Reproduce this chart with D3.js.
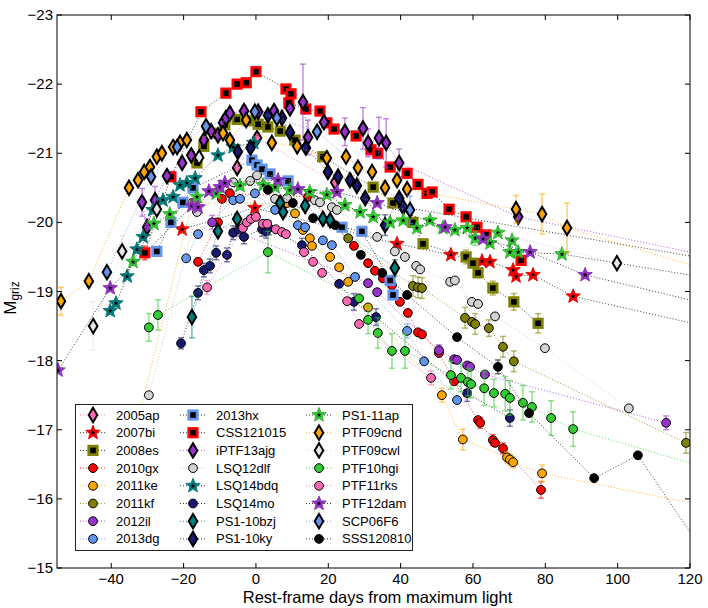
<!DOCTYPE html>
<html>
<head>
<meta charset="utf-8">
<script src="https://cdn.jsdelivr.net/npm/d3@7"></script>
<style>
  body { margin: 0; background: #fff; }
  svg { display: block; }
  text { font-family: "Liberation Sans", Arial, sans-serif; fill: #000; }
</style>
</head>
<body>
<div id="chart"></div>
<script>
// Superluminous SN light curves, M_griz vs rest-frame phase
// points are [day, mag, err]; err omitted = small (hidden behind marker)

const xTicks = [-40, -20, 0, 20, 40, 60, 80, 100, 120];
const yTicks = [-23, -22, -21, -20, -19, -18, -17, -16, -15];

const sn2005ap = [[-5.2,-20.79],[0.3,-21.22],[21.9,-20.58]];
const sn2007bi = [[-20.4,-19.90],[-0.3,-20.21],[39.0,-19.69],[53.9,-19.53],[62.5,-19.44],[64.7,-19.43],
  [71.1,-19.31],[71.9,-19.22],[76.6,-19.24],[87.7,-18.93],[135,-18.37]];
const sn2008es = [[-16.3,-20.86],[-14.4,-21.10],[-11.3,-21.29],[-8.6,-21.41],[-5.2,-21.49],[-2.2,-21.47],
  [0.6,-21.42],[3.3,-21.38],[6.7,-21.32],[10.8,-21.19],[18.5,-20.95],[32.4,-20.51],[37.9,-20.28],
  [43.4,-20.00],[46.2,-19.69],[58.1,-19.50,0.1],[60.0,-19.41],[61.4,-19.27],[65.5,-19.05,0.1],
  [71.3,-18.85,0.12],[78.0,-18.54,0.14]];
const sn2010gx = [[-16.0,-19.43],[-10.5,-20.00],[-9.4,-20.34],[-7.2,-20.42],[14.4,-20.37],[27.1,-19.66],
  [31.0,-19.41],[32.9,-19.30],[35.1,-19.19],[37.6,-19.09],[39.8,-18.85],[42.0,-18.69],[44.8,-18.41],
  [45.9,-18.38],[50.6,-18.11],[54.8,-17.70],[61.4,-17.14],[62.0,-17.10,0.08],[65.5,-16.85,0.08],
  [66.1,-16.81],[68.3,-16.73,0.08],[78.8,-16.13,0.12]];
const sn2011ke = [[-38,-16.0],[-17.7,-20.28],[8.6,-20.28],[10.8,-20.13],[13.0,-19.89],[14.9,-19.77],
  [15.5,-19.66],[20.5,-19.50],[23.0,-19.35],[25.5,-19.14],[31.0,-18.77],[51.4,-17.50,0.1],
  [57.2,-16.86,0.15],[69.4,-16.60,0.08],[70.2,-16.57,0.08],[71.1,-16.53,0.08],[79.1,-16.37,0.12],[130,-15.84]];
const sn2011kf = [[25.5,-19.77],[43.4,-19.08,0.15],[44.8,-19.06,0.15],[45.9,-19.05,0.15],[57.8,-18.62,0.15],
  [59.7,-18.56],[60.6,-18.53,0.15],[64.4,-18.47,0.12],[68.3,-18.20,0.15],[71.3,-17.99,0.15],[118.9,-16.81,0.15]];
const sn2012il = [[-12.1,-20.00,0.1],[31.0,-19.12],[33.5,-18.99],[50.6,-18.15,0.08],[54.8,-18.02],[55.6,-18.01],
  [58.4,-17.93],[59.2,-17.91],[63.3,-17.80],[113.4,-17.10,0.1]];
const sn2013dg = [[-19.3,-19.48],[-16.0,-19.83],[-6.3,-20.32],[-4.4,-20.34],[-0.3,-20.42],[5.3,-20.18],
  [11.6,-19.96],[13.6,-19.93],[18.5,-19.74],[21.0,-19.67],[27.4,-19.21],[41.8,-18.43,0.1],
  [46.5,-17.99],[55.6,-17.43]];
const sn2013hx = [[-27.4,-19.58],[-23.5,-20.00],[-20.2,-20.29],[-17.4,-20.50],[-1.1,-20.90],[0.3,-20.83],
  [1.7,-20.77],[3.9,-20.70],[8.9,-20.60],[23.8,-19.93],[29.3,-19.87],[37.1,-19.16],[37.9,-18.95]];
const snCSS121015 = [[-30.7,-19.56,0.1],[-23.5,-20.66],[-15.2,-21.60],[-8.3,-21.87],[-5.2,-22.00],[-2.7,-22.02],
  [0.0,-22.18],[8.3,-21.93],[9.7,-21.86],[9.1,-21.73],[13.8,-21.64],[17.7,-21.61],[19.6,-21.44],
  [21.6,-21.35],[27.7,-21.25],[31.8,-21.05],[33.7,-21.00],[37.1,-20.80],[41.8,-20.71],[44.8,-20.55],
  [47.3,-20.42],[48.7,-20.44],[53.4,-20.19],[58.1,-20.08],[61.1,-19.93],[63.6,-19.82],[73.3,-19.45]];
const sniPTF13ajg = [[-31.5,-20.29,0.2],[-30.1,-19.93,0.12],[-27.9,-20.32,0.2],[-24.6,-20.67],[-20.4,-20.86],
  [-17.9,-20.97],[-14.4,-21.19],[-12.4,-21.32],[-10.5,-21.26],[-9.1,-21.44],[-8.3,-21.51],[-7.2,-21.58],
  [-3.3,-21.61,0.08],[0.6,-21.60],[5.0,-21.61],[9.4,-21.65],[13.0,-21.74,0.55],[14.4,-21.23,0.25],
  [18.8,-21.45],[24.6,-21.31,0.2],[29.6,-21.36,0.3],[31.0,-21.15,0.2],[34.0,-21.22,0.3],[36.0,-21.15,0.35],
  [39.6,-20.86,0.2],[72.5,-20.08],[135,-19.41]];
const snLSQ12dlf = [[-29.6,-17.50],[-16.3,-20.15],[-6.3,-20.58],[-1.6,-20.60],[0.3,-20.68],[5.3,-20.34],
  [8.6,-20.35],[16.3,-20.32],[17.7,-20.29],[21.0,-20.22],[22.4,-20.18],[33.5,-19.79],[38.4,-19.58],
  [41.2,-19.50],[44.3,-19.37],[45.4,-19.32],[53.7,-19.14],[55.0,-19.16],[59.7,-18.85],[61.4,-18.82],
  [66.1,-18.64],[79.9,-18.18],[103.1,-17.31]];
const snLSQ14bdq = [[-40.3,-18.72],[-38.7,-18.83],[-35.6,-19.22],[-32.9,-19.61],[-31.2,-19.79],[-28.5,-20.18],
  [-25.7,-20.32],[-22.9,-20.37],[-21.0,-20.54],[-19.1,-20.57],[-16.8,-20.64],[-10.5,-20.97],[-6.3,-21.09],
  [-0.6,-21.15]];
const snLSQ14mo = [[-20.7,-18.25,0.08],[-16.0,-18.98,0.1],[-14.4,-19.31,0.1],[-12.7,-19.37,0.1],[-11.0,-19.56,0.1],
  [-8.0,-19.53,0.1],[-6.3,-19.85,0.1],[-4.7,-19.90,0.1],[-3.3,-19.79,0.1],[1.7,-19.90,0.1],[2.8,-19.87,0.1],
  [3.6,-19.92,0.1],[12.7,-19.67,0.1],[23.0,-19.11],[27.1,-18.85,0.12],[33.2,-18.63,0.12],[58.4,-17.53,0.12],
  [70.2,-17.17,0.12]];
const snPS1_10bzj = [[-17.7,-18.63,0.3],[-10.5,-19.87],[-5.2,-20.05],[6.7,-20.28],[7.5,-20.15],[13.6,-20.24],
  [18.5,-20.05],[20.5,-20.03],[38.4,-19.34,0.12]];
const snPS1_10ky = [[-5.0,-21.02],[-1.5,-21.08],[3.3,-21.55],[7.2,-21.51],[9.4,-21.30],[13.8,-21.08],
  [19.9,-20.73],[22.7,-20.66],[26.0,-20.61],[27.9,-20.53],[30.2,-20.35],[35.7,-19.96,0.15],[39.6,-20.35],
  [40.7,-20.22],[135,-19.38]];
const snPS1_11ap = [[-34.0,-19.43],[-28.2,-19.98],[-23.8,-20.12],[-16.3,-20.37],[-11.0,-20.42],[-4.4,-20.53],
  [2.0,-20.54],[5.3,-20.51],[9.4,-20.47],[14.9,-20.44],[19.6,-20.40],[24.6,-20.25],[28.8,-20.15],
  [32.4,-20.08],[37.1,-20.00],[40.7,-20.03],[44.5,-19.92],[48.1,-20.03],[51.7,-19.92],[55.0,-19.89],
  [58.4,-19.92],[60.6,-19.77,0.1],[64.7,-19.70],[66.9,-19.85],[70.8,-19.74],[70.2,-19.57],[72.5,-19.57],
  [84.6,-19.54],[135,-19.11]];
const snPTF09cnd = [[-53.9,-18.86,0.2],[-46.2,-19.15],[-35.1,-20.50],[-32.6,-20.61],[-30.9,-20.73],[-29.3,-20.80],
  [-27.4,-20.95],[-26.0,-21.00],[-22.9,-21.09],[-21.0,-21.15],[-19.1,-21.19],[-9.1,-21.29],[-7.2,-21.19],
  [-2.7,-21.48],[4.4,-21.15],[11.4,-21.10],[19.6,-20.93],[24.9,-20.95],[28.2,-20.79],[32.1,-20.73],
  [35.7,-20.50,0.1],[39.0,-20.61],[41.8,-20.48],[71.9,-20.19,0.2],[79.1,-20.12,0.29],[86.0,-19.92,0.36],
  [135,-19.15]];
const snPTF09cwl = [[-45.0,-18.50,0.35],[-37.0,-19.58,0.23],[-27.4,-20.19],[-15.7,-20.94],[99.8,-19.41]];
const snPTF10hgi = [[-29.6,-18.48,0.2],[-27.1,-18.66,0.22],[3.3,-19.57,0.3],[28.5,-18.90],[31.0,-18.59,0.2],
  [33.7,-18.40,0.22],[37.6,-18.14,0.25],[41.2,-18.14,0.25],[53.9,-17.79,0.2],[56.7,-17.75,0.2],
  [58.6,-17.69,0.2],[59.5,-17.66,0.2],[63.1,-17.60,0.25],[65.8,-17.53,0.2],[68.9,-17.52,0.25],
  [70.2,-17.46,0.25],[73.8,-17.39,0.25],[76.3,-17.33,0.22],[81.6,-17.17,0.25],[87.7,-17.01,0.25],[130,-16.37]];
const snPTF11rks = [[-13.5,-19.06,0.1],[-3.6,-19.92],[-2.5,-20.00],[-1.4,-20.05],[0.0,-20.08],[1.9,-19.98],
  [3.1,-19.98],[5.5,-19.90],[7.2,-19.86],[8.3,-19.83],[13.3,-19.57],[15.8,-19.43],[18.3,-19.27],
  [25.2,-18.86],[28.5,-18.53],[48.4,-17.75,0.1]];
const snPTF12dam = [[-54.7,-17.86],[-40.3,-19.05],[-17.7,-20.24],[-16.0,-20.22],[-13.0,-20.45],[-9.9,-20.51],
  [-8.6,-20.57],[6.1,-20.61],[11.6,-20.48],[22.4,-20.44],[33.5,-20.28],[52.3,-19.93],[62.8,-19.76],
  [75.8,-19.57],[91.0,-19.24],[135,-18.69]];
const snSCP06F6 = [[-41.2,-19.28],[-29.0,-20.66],[-21.8,-21.09],[-13.8,-21.39],[-0.3,-21.60],[5.8,-21.51],
  [16.9,-21.31],[42.6,-20.18,0.2]];
const snSSS120810 = [[3.3,-20.47],[10.2,-20.28],[15.8,-20.06],[21.9,-19.96],[29.0,-19.53],[34.9,-19.27],
  [41.8,-18.95],[55.6,-18.34],[66.9,-17.91,0.1],[75.5,-17.24],[93.5,-16.30],[105.6,-16.63],[128,-14.9]];

const names = ["2005ap","2007bi","2008es","2010gx","2011ke","2011kf","2012il","2013dg",
  "2013hx","CSS121015","iPTF13ajg","LSQ12dlf","LSQ14bdq","LSQ14mo","PS1-10bzj","PS1-10ky",
  "PS1-11ap","PTF09cnd","PTF09cwl","PTF10hgi","PTF11rks","PTF12dam","SCP06F6","SSS120810"];
const series = [sn2005ap, sn2007bi, sn2008es, sn2010gx, sn2011ke, sn2011kf, sn2012il, sn2013dg,
  sn2013hx, snCSS121015, sniPTF13ajg, snLSQ12dlf, snLSQ14bdq, snLSQ14mo, snPS1_10bzj, snPS1_10ky,
  snPS1_11ap, snPTF09cnd, snPTF09cwl, snPTF10hgi, snPTF11rks, snPTF12dam, snSCP06F6, snSSS120810];

// marker shape, marker colour, line colour
const styles = {
  "2005ap":    { m: "diamond", c: "#ff69b4", l: "#ff69b4" },
  "2007bi":    { m: "star",    c: "#ff0000", l: "#000000" },
  "2008es":    { m: "square",  c: "#808000", l: "#000000" },
  "2010gx":    { m: "circle",  c: "#ff0000", l: "#ff0000" },
  "2011ke":    { m: "circle",  c: "#ffa500", l: "#ffa500" },
  "2011kf":    { m: "circle",  c: "#808000", l: "#808000" },
  "2012il":    { m: "circle",  c: "#9932cc", l: "#9932cc" },
  "2013dg":    { m: "circle",  c: "#6495ed", l: "#6495ed" },
  "2013hx":    { m: "square",  c: "#6495ed", l: "#000000" },
  "CSS121015": { m: "square",  c: "#ff0000", l: "#000000" },
  "iPTF13ajg": { m: "diamond", c: "#9932cc", l: "#9932cc" },
  "LSQ12dlf":  { m: "circle",  c: "#d3d3d3", l: "#c0c0c0" },
  "LSQ14bdq":  { m: "star",    c: "#008080", l: "#000000" },
  "LSQ14mo":   { m: "circle",  c: "#191970", l: "#000000" },
  "PS1-10bzj": { m: "diamond", c: "#008080", l: "#008080" },
  "PS1-10ky":  { m: "diamond", c: "#191970", l: "#000000" },
  "PS1-11ap":  { m: "star",    c: "#32cd32", l: "#000000" },
  "PTF09cnd":  { m: "diamond", c: "#ffa500", l: "#ffa500" },
  "PTF09cwl":  { m: "diamond", c: "#e6e6e6", l: "#c8c8c8" },
  "PTF10hgi":  { m: "circle",  c: "#32cd32", l: "#32cd32" },
  "PTF11rks":  { m: "circle",  c: "#ff69b4", l: "#ff69b4" },
  "PTF12dam":  { m: "star",    c: "#9932cc", l: "#000000" },
  "SCP06F6":   { m: "diamond", c: "#6495ed", l: "#6495ed" },
  "SSS120810": { m: "circle",  c: "#000000", l: "#000000" }
};

const W = 708, H = 608;
const plot = { left: 57, right: 690, top: 15, bottom: 568 };

const x = d3.scaleLinear().domain([-55, 120]).range([plot.left, plot.right]);
const y = d3.scaleLinear().domain([-23, -15]).range([plot.top, plot.bottom]);

const svg = d3.select('#chart').append('svg')
  .attr('width', W).attr('height', H)
  .attr('viewBox', `0 0 ${W} ${H}`);

svg.append('defs').append('clipPath').attr('id', 'clip')
  .append('rect')
  .attr('x', plot.left).attr('y', plot.top)
  .attr('width', plot.right - plot.left).attr('height', plot.bottom - plot.top);

function starPath(R, r) {
  const pts = [];
  for (let i = 0; i < 10; i++) {
    const a = -Math.PI / 2 + i * Math.PI / 5;
    const rad = i % 2 ? r : R;
    pts.push([rad * Math.cos(a), rad * Math.sin(a)]);
  }
  return 'M' + pts.map(p => p[0].toFixed(2) + ',' + p[1].toFixed(2)).join('L') + 'Z';
}

function drawMarker(sel, st) {
  if (st.m === 'circle') {
    sel.append('circle').attr('r', 4.4)
      .attr('fill', st.c).attr('stroke', '#000').attr('stroke-width', 1);
  } else if (st.m === 'diamond') {
    sel.append('path').attr('d', 'M0,-7.2L4.3,0L0,7.2L-4.3,0Z')
      .attr('fill', st.c).attr('stroke', '#000').attr('stroke-width', 2)
      .attr('stroke-linejoin', 'miter');
  } else if (st.m === 'square') {
    sel.append('rect').attr('x', -4.2).attr('y', -4.2).attr('width', 8.4).attr('height', 8.4)
      .attr('fill', '#000').attr('stroke', st.c).attr('stroke-width', 2.8);
  } else if (st.m === 'star') {
    sel.append('path').attr('d', starPath(7.6, 3.3))
      .attr('fill', st.c).attr('stroke', d3.color(st.c).darker(0.6)).attr('stroke-width', 0.8);
    sel.append('path').attr('d', starPath(2.6, 1.1)).attr('fill', '#000');
  }
}

const g = svg.append('g').attr('clip-path', 'url(#clip)');
const line = d3.line().x(d => x(d[0])).y(d => y(d[1]));

series.forEach((data, i) => {
  const st = styles[names[i]];
  const sg = g.append('g').attr('class', 'sn');

  sg.append('path').datum(data)
    .attr('d', line)
    .attr('fill', 'none')
    .attr('stroke', st.l)
    .attr('stroke-opacity', st.l === '#000000' ? 0.75 : 0.8)
    .attr('stroke-width', 1)
    .attr('stroke-dasharray', '1,2');

  const errColor = st.c === '#000000' ? '#000' : st.c;
  const eb = sg.selectAll('.eb').data(data.filter(d => d[2])).enter().append('g')
    .attr('stroke', errColor).attr('stroke-opacity', 0.55).attr('stroke-width', 1.5);
  eb.append('line')
    .attr('x1', d => x(d[0])).attr('x2', d => x(d[0]))
    .attr('y1', d => y(d[1] - d[2])).attr('y2', d => y(d[1] + d[2]));
  eb.append('line')
    .attr('x1', d => x(d[0]) - 3).attr('x2', d => x(d[0]) + 3)
    .attr('y1', d => y(d[1] - d[2])).attr('y2', d => y(d[1] - d[2]));
  eb.append('line')
    .attr('x1', d => x(d[0]) - 3).attr('x2', d => x(d[0]) + 3)
    .attr('y1', d => y(d[1] + d[2])).attr('y2', d => y(d[1] + d[2]));

  sg.selectAll('.mk').data(data).enter().append('g')
    .attr('transform', d => `translate(${x(d[0])},${y(d[1])})`)
    .each(function () { drawMarker(d3.select(this), st); });
});

// frame and inward ticks on all sides
const axes = svg.append('g');
axes.append('rect')
  .attr('x', plot.left).attr('y', plot.top)
  .attr('width', plot.right - plot.left).attr('height', plot.bottom - plot.top)
  .attr('fill', 'none').attr('stroke', '#000').attr('stroke-width', 1);

const tickLen = 5;
xTicks.forEach(t => {
  axes.append('line').attr('x1', x(t)).attr('x2', x(t))
    .attr('y1', plot.bottom).attr('y2', plot.bottom - tickLen).attr('stroke', '#000');
  axes.append('line').attr('x1', x(t)).attr('x2', x(t))
    .attr('y1', plot.top).attr('y2', plot.top + tickLen).attr('stroke', '#000');
  axes.append('text').attr('x', x(t)).attr('y', plot.bottom + 16)
    .attr('text-anchor', 'middle').attr('font-size', 15)
    .text(t < 0 ? '\u2212' + Math.abs(t) : t);
});
yTicks.forEach(t => {
  axes.append('line').attr('x1', plot.left).attr('x2', plot.left + tickLen)
    .attr('y1', y(t)).attr('y2', y(t)).attr('stroke', '#000');
  axes.append('line').attr('x1', plot.right).attr('x2', plot.right - tickLen)
    .attr('y1', y(t)).attr('y2', y(t)).attr('stroke', '#000');
  axes.append('text').attr('x', plot.left - 4).attr('y', y(t) + 5)
    .attr('text-anchor', 'end').attr('font-size', 15)
    .text('\u2212' + Math.abs(t));
});

svg.append('text')
  .attr('x', (plot.left + plot.right) / 2 + 4).attr('y', 603)
  .attr('text-anchor', 'middle').attr('font-size', 16.5)
  .text('Rest-frame days from maximum light');

const yl = svg.append('text')
  .attr('transform', 'translate(16,298) rotate(-90)')
  .attr('text-anchor', 'middle').attr('font-size', 17);
yl.append('tspan').text('M');
yl.append('tspan').attr('font-size', 12).attr('dy', 3).text('griz');

// legend
const legendCols = [93, 193, 319];
const leg = svg.append('g');
leg.append('rect')
  .attr('x', 75.5).attr('y', 404.5).attr('width', 337).attr('height', 146)
  .attr('fill', '#fff').attr('stroke', '#222').attr('stroke-width', 1);

names.forEach((name, i) => {
  const st = styles[name];
  const cx = legendCols[Math.floor(i / 8)];
  const cy = 415 + (i % 8) * 17.7;
  leg.append('line')
    .attr('x1', cx - 13).attr('x2', cx + 13).attr('y1', cy).attr('y2', cy)
    .attr('stroke', st.l).attr('stroke-opacity', 0.8)
    .attr('stroke-dasharray', '1,2');
  const mg = leg.append('g').attr('transform', `translate(${cx},${cy})`);
  drawMarker(mg, st);
  leg.append('text').attr('x', cx + 23).attr('y', cy + 4.5)
    .attr('font-size', 13).text(name);
});
</script>
</body>
</html>
